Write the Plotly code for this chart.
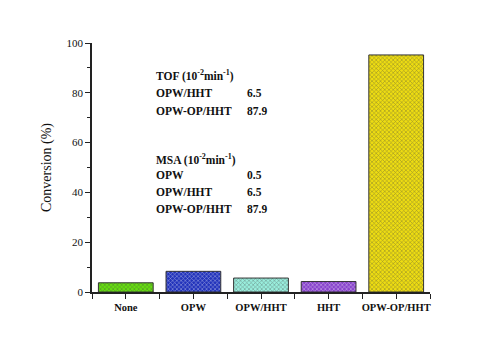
import plotly.graph_objects as go

categories = ["None", "OPW", "OPW/HHT", "HHT", "OPW-OP/HHT"]
conversion = [3.7, 8.3, 5.6, 4.2, 95.2]
colors = ["#66dd11", "#2233bb", "#99eedd", "#8844cc", "#eedd11"]

tof_labels = ["OPW/HHT", "OPW-OP/HHT"]
tof_values = ["6.5", "87.9"]
msa_labels = ["OPW", "OPW/HHT", "OPW-OP/HHT"]
msa_values = ["0.5", "6.5", "87.9"]

xpos = list(range(len(categories)))

fig = go.Figure()
fig.add_trace(go.Bar(
    x=xpos, y=conversion, width=0.81,
    marker=dict(color=colors, line=dict(color="#333333", width=1),
                pattern=dict(shape="x", fgcolor="#222222", size=3, solidity=0.35)),
    showlegend=False,
))

font = "Liberation Serif, Times New Roman, serif"
anns = []
def txt(x, y, s):
    anns.append(dict(x=x, y=y, xref="paper", yref="paper", text=s, showarrow=False,
                     xanchor="left", yanchor="middle",
                     font=dict(family=font, size=11.5, color="#111111")))

# paper coords: plot x 92..430 (338px), y 43..292 (249px)
def px(x): return (x - 92) / 338
def py(y): return (292 - y) / 249

txt(px(154), py(75), "<b>TOF (10<sup>-2</sup>min<sup>-1</sup>)</b>")
for i, (l, v) in enumerate(zip(tof_labels, tof_values)):
    txt(px(154), py(93 + 18 * i), "<b>%s</b>" % l)
    txt(px(245), py(93 + 18 * i), "<b>%s</b>" % v)
txt(px(154), py(159), "<b>MSA (10<sup>-2</sup>min<sup>-1</sup>)</b>")
for i, (l, v) in enumerate(zip(msa_labels, msa_values)):
    txt(px(154), py(175 + 17 * i), "<b>%s</b>" % l)
    txt(px(245), py(175 + 17 * i), "<b>%s</b>" % v)

fig.update_layout(
    width=500, height=352,
    margin=dict(l=92, r=70, t=43, b=60),
    paper_bgcolor="white", plot_bgcolor="white",
    font=dict(family=font, color="#111111"),
    annotations=anns,
    bargap=0.19,
)
fig.update_xaxes(
    range=[-0.5, 4.5], tickmode="array", tickvals=xpos, ticktext=["<b>%s</b>" % c for c in categories],
    showline=True, linecolor="#222222", linewidth=1.5, ticks="outside", ticklen=5, tickcolor="#222222",
    tickfont=dict(family=font, size=10.5), showgrid=False, zeroline=False,
    minor=dict(tickmode="linear", tick0=-0.5, dtick=1, ticks="outside", ticklen=5, tickcolor="#222222"),
)
fig.update_yaxes(
    range=[0, 100], tickvals=[0, 20, 40, 60, 80, 100],
    showline=True, linecolor="#222222", linewidth=1.5, ticks="outside", ticklen=5, tickcolor="#222222",
    tickfont=dict(family=font, size=11), showgrid=False, zeroline=False,
    minor=dict(tickmode="linear", tick0=10, dtick=20, ticks="outside", ticklen=3, tickcolor="#222222"),
    title=dict(text="Conversion (%)", font=dict(family=font, size=14), standoff=12),
)
fig.write_html("out.html")
